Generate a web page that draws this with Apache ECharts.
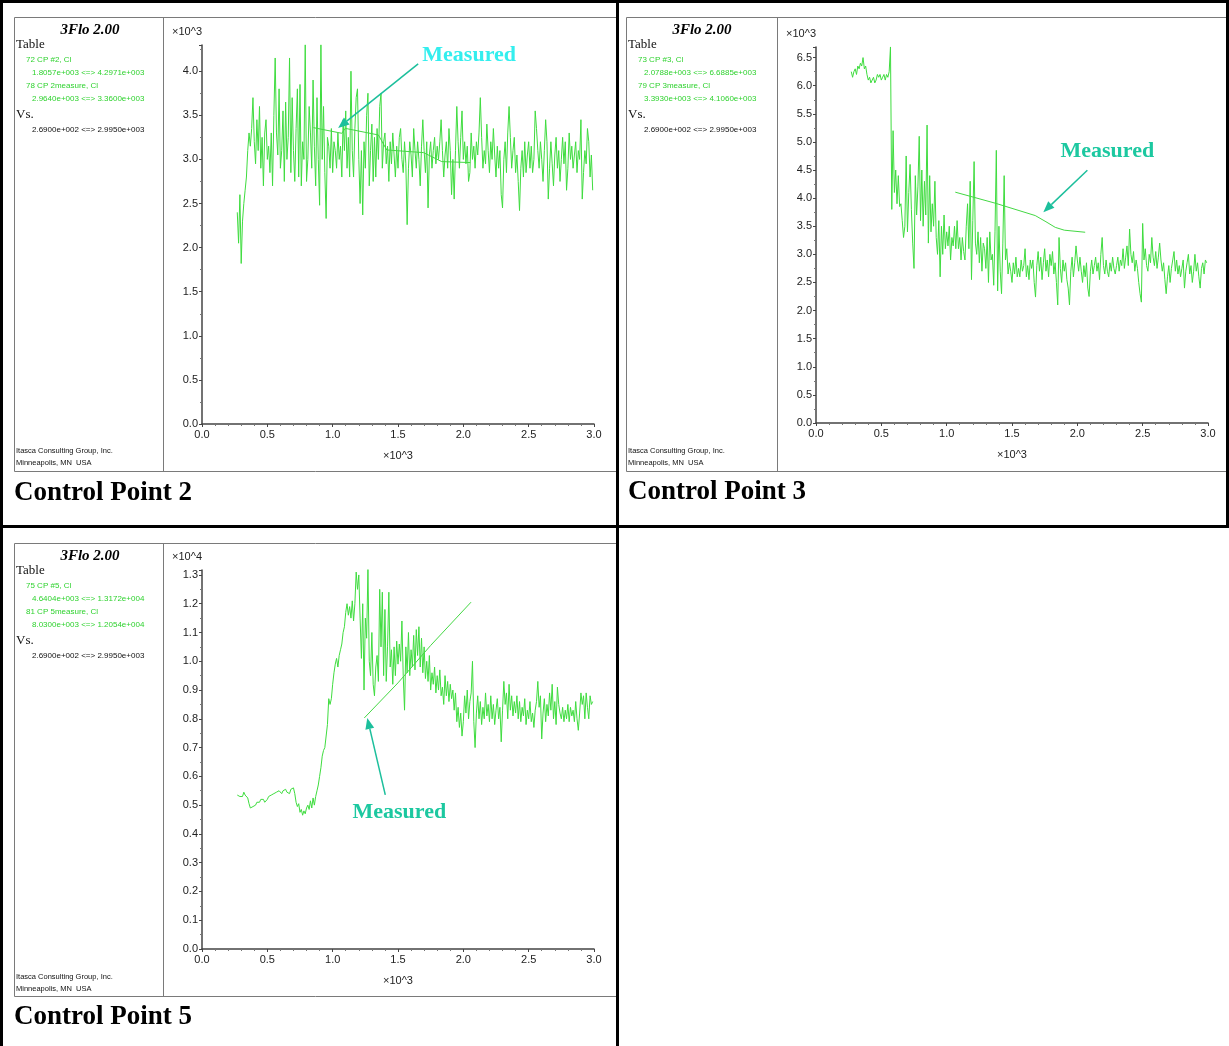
<!DOCTYPE html>
<html><head><meta charset="utf-8">
<script src="https://cdn.jsdelivr.net/npm/echarts@6/dist/echarts.min.js"></script>
<style>html,body{margin:0;padding:0;background:#fff}#c{width:1229px;height:1046px}</style>
</head><body><div id="c"></div>
<script>
// ---------- DATA ----------
const timeSteps = [
270,280,290,
300,310,320,330,340,350,360,370,380,390,
400,410,420,430,440,450,460,470,480,490,
500,510,520,530,540,550,560,570,580,590,
600,610,620,630,640,650,660,670,680,690,
700,710,720,730,740,750,760,770,780,790,
800,810,820,830,840,850,860,870,880,890,
900,910,920,930,940,950,960,970,980,990,
1000,1010,1020,1030,1040,1050,1060,1070,1080,1090,
1100,1110,1120,1130,1140,1150,1160,1170,1180,1190,
1200,1210,1220,1230,1240,1250,1260,1270,1280,1290,
1300,1310,1320,1330,1340,1350,1360,1370,1380,1390,
1400,1410,1420,1430,1440,1450,1460,1470,1480,1490,
1500,1510,1520,1530,1540,1550,1560,1570,1580,1590,
1600,1610,1620,1630,1640,1650,1660,1670,1680,1690,
1700,1710,1720,1730,1740,1750,1760,1770,1780,1790,
1800,1810,1820,1830,1840,1850,1860,1870,1880,1890,
1900,1910,1920,1930,1940,1950,1960,1970,1980,1990,
2000,2010,2020,2030,2040,2050,2060,2070,2080,2090,
2100,2110,2120,2130,2140,2150,2160,2170,2180,2190,
2200,2210,2220,2230,2240,2250,2260,2270,2280,2290,
2300,2310,2320,2330,2340,2350,2360,2370,2380,2390,
2400,2410,2420,2430,2440,2450,2460,2470,2480,2490,
2500,2510,2520,2530,2540,2550,2560,2570,2580,2590,
2600,2610,2620,2630,2640,2650,2660,2670,2680,2690,
2700,2710,2720,2730,2740,2750,2760,2770,2780,2790,
2800,2810,2820,2830,2840,2850,2860,2870,2880,2890,
2900,2910,2920,2930,2940,2950,2960,2970,2980,2990
];

const cp2Values = [
2400,2050,2600,
1820,2300,2500,2650,2800,3100,3300,3150,3350,3700,
3200,2950,3450,3100,3600,2900,3250,2700,3300,3450,
3000,3150,2850,3300,2700,3500,4150,3300,3050,3800,
2900,3100,3550,2750,3650,3000,3250,4150,2850,3700,
3100,2750,3350,3800,2800,3850,2700,3200,3000,4300,
2750,3000,3600,3300,2900,3900,3150,2700,3700,3000,
2480,4300,3000,3600,2850,2330,3250,3150,2900,3350,
2850,3200,3100,2900,3300,3000,3150,2800,3450,3100,
3550,2900,3250,2800,4000,3100,2800,3350,3700,3800,
3000,2500,3100,2370,3200,2900,3500,3750,2700,3100,
3400,2750,3250,2800,3350,3000,3600,3750,2900,3200,
3300,2950,3150,2750,3200,2950,3300,3050,2800,3150,
2900,3250,3350,3000,2850,3200,2950,2260,2900,3200,
3050,2800,3350,3100,2900,3200,3000,2700,3150,3450,
3100,2850,3200,2450,3050,3200,2900,3100,3250,2950,
3150,3000,3200,3450,3100,2800,3050,3200,2900,3350,
3100,2600,3000,2550,3100,3600,3200,2900,3250,3550,
3000,3200,2950,3150,2750,2850,3300,3000,3150,2900,
3200,3050,3300,3700,3250,2900,3100,2950,3400,3100,
2850,3200,3000,3350,3050,2800,3150,2900,3100,2600,
2450,3000,3200,2850,3300,3600,3250,2900,3100,3250,
2850,3050,2750,2420,2900,3100,2800,3200,2850,3050,
3200,2900,3150,2850,3000,3550,3350,3100,2900,3200,
3000,2750,3100,3450,3200,2550,2900,3200,2950,2700,
3050,3250,2900,3100,2750,3000,3250,2950,3200,2650,
2900,3300,3000,3150,2900,3050,3200,2850,3100,3000,
3450,2550,2850,3100,2950,3350,3200,2800,3050,2650
];

const cp3Values = [
6250,6150,6250,
6300,6200,6350,6300,6400,6350,6500,6300,6350,6200,
6100,6150,6050,6100,6150,6050,6100,6200,6150,6200,
6100,6150,6200,6100,6200,6150,6250,6690,3800,5200,
4100,4500,3900,4400,3850,3900,3600,3300,3500,4750,
3400,4100,4600,3800,3200,2750,4400,3700,4200,5100,
3600,4500,3500,4300,3700,5300,3200,4400,3400,3900,
3500,4300,3300,3000,3600,2600,3500,3000,3700,3100,
3400,3150,3500,2900,3300,3150,3500,3100,3600,3100,
3300,2900,3300,3050,2900,3500,3900,3100,4300,2550,
3600,4650,3200,3000,3400,2850,3300,2700,3200,3100,
2750,3300,2500,3400,2900,3000,2450,3400,4850,2350,
3500,2700,2300,3200,4400,2900,3100,2650,2850,2700,
2500,2850,2650,2950,2600,2750,2600,2900,2700,2800,
3100,2600,2800,2550,2900,2750,2900,2500,2240,2800,
3050,2700,2950,2550,2850,3100,2700,2900,2600,3000,
2800,3050,2650,2850,2500,2100,3300,2750,2500,2900,
2700,2850,2550,2400,2100,2700,2950,2600,2850,3150,
2900,2700,2950,2700,2500,2800,2600,2850,2400,2250,
2700,2900,2650,2800,2950,2700,2850,2550,3000,3300,
2800,2650,2900,2700,2600,2850,2700,2950,2750,2650,
2800,2950,2700,2900,2800,3100,2750,2950,3150,2800,
3450,3000,2850,3050,2700,2900,2750,2500,2300,2150,
3550,2900,3100,2800,2700,3000,2850,3300,2950,2800,
3050,2750,2950,3200,2900,2700,2850,2550,2300,2600,
2800,2500,2750,2900,3050,2700,2900,2650,2800,2600,
2750,2900,2400,2700,2850,3000,2650,2800,2500,2700,
3000,2700,2850,2600,2400,2750,2850,2650,2900,2850
];

const cp5Values = [
5350,5400,5300,
5350,5300,5450,5350,5300,5250,5050,4900,4850,4950,
4900,5000,5100,5150,5100,5200,5150,5200,5100,5150,
5200,5300,5250,5350,5300,5400,5350,5450,5400,5500,
5450,5400,5500,5450,5550,5450,5500,5400,5550,5500,
5600,5400,5100,4950,5050,4750,4850,4650,4800,4700,
4900,5000,4850,5150,4900,5250,5000,5300,5500,5700,
6000,6300,6700,6900,7000,6950,7800,8700,8500,8700,
9200,9600,9900,10100,9800,10200,10400,10600,11000,11200,
11700,12000,11600,11900,11500,12100,11400,12000,13100,12500,
13000,11500,10100,12000,9000,11500,10800,13200,10000,9500,
11000,9200,8800,9800,10200,9300,12500,10500,12400,9500,
11800,9300,10500,12400,9800,10400,9200,10500,9500,10700,
9900,10600,10000,11400,9500,8300,10500,9600,11000,9500,
10400,9800,10900,9700,11100,10200,11200,9800,10800,9600,
10500,9400,10000,9300,10200,9000,9600,9200,9800,8900,
9500,9000,9700,8800,9100,8500,9500,8800,9300,8600,
9200,8700,9000,8300,8900,7900,8400,7700,8200,7400,
7900,8800,8200,9000,8000,8600,8900,10000,7900,7000,
8200,8800,8000,8600,7800,8400,8000,8900,8100,8500,
7900,8800,8000,8500,7800,8300,8700,8000,8400,7200,
8300,9300,8500,8900,8000,9200,8300,8800,8100,8600,
8200,8800,8000,8600,7900,8400,8100,8700,7800,8300,
8000,8600,7900,8200,7700,8300,8600,9300,8400,8800,
7300,8200,8700,7900,8500,8100,8900,8300,9200,8000,
8600,7800,9100,8500,8200,8000,8400,7900,8300,8000,
8500,7900,8400,8100,8300,7900,8600,8000,7600,8200,
8900,8500,8800,8000,8900,8400,8000,8800,8500,8600
];

const cp2MeasuredX = [853, 1070, 1096, 1350, 1414, 1695, 1835, 2053];
const cp2MeasuredY = [3360, 3296, 3352, 3277, 3107, 3077, 2975, 2964];
const cp3MeasuredX = [1066, 1372, 1678, 1760, 1831, 1900, 2060];
const cp3MeasuredY = [4106, 3910, 3690, 3580, 3480, 3430, 3393];
const cp5MeasuredX = [1242, 1500, 1750, 2059];
const cp5MeasuredY = [8030, 9250, 10550, 12054];

const yMaxValues = [4297.1, 6688.5, 13172];
const yScaleDivisors = [1000, 1000, 10000];
const yUnitLabels = ['×10^3', '×10^3', '×10^4'];
const xUnitLabel = '×10^3';

const panelTitles = ['Control Point 2', 'Control Point 3', 'Control Point 5'];
const panelLegendRows = [
  ['72 CP #2, Cl', '1.8057e+003 <=> 4.2971e+003', '78 CP 2measure, Cl', '2.9640e+003 <=> 3.3600e+003'],
  ['73 CP #3, Cl', '2.0788e+003 <=> 6.6885e+003', '79 CP 3measure, Cl', '3.3930e+003 <=> 4.1060e+003'],
  ['75 CP #5, Cl', '4.6404e+003 <=> 1.3172e+004', '81 CP 5measure, Cl', '8.0300e+003 <=> 1.2054e+004']
];
const vsRange = '2.6900e+002 <=> 2.9950e+003';
const annotationText = 'Measured';
// arrow tips in data coordinates (x, y) for each panel
const arrowTipX = [1042, 1740, 1265];
const arrowTipY = [3357, 3750, 8030];

// ---------- LAYOUT ----------
function pairs(xs, ys) {
  const n = Math.min(xs.length, ys.length), out = [];
  for (let i = 0; i < n; i++) out.push([xs[i], ys[i]]);
  return out;
}
const FONT = 'Arial, "Liberation Sans", sans-serif';
const SERIF = '"Times New Roman", "Liberation Serif", serif';
const LINE_COLOR = '#3fdc3f';
const grids = [
  { left: 202, top: 45, width: 392, height: 379 },
  { left: 816, top: 47, width: 392, height: 376 },
  { left: 202, top: 570, width: 392, height: 379 }
];
const frames = [[14, 17, 602, 454], [626, 17, 603, 454], [14, 543, 602, 453]];
const dividers = [163.5, 777.5, 163.5];
const titlePos = [[14, 493], [628, 492], [14, 1017]];

const xAxes = grids.map((g, i) => ({
  type: 'value', gridIndex: i, min: 0, max: 3000, interval: 500,
  name: xUnitLabel, nameLocation: 'middle', nameGap: 26,
  nameTextStyle: { fontSize: 11, color: '#222', fontFamily: FONT },
  axisLine: { lineStyle: { color: '#444', width: 1.5 } },
  axisTick: { length: 3, lineStyle: { color: '#444' } },
  minorTick: { show: true, splitNumber: 5, length: 2, lineStyle: { color: '#777' } },
  axisLabel: { fontSize: 11, color: '#222', margin: 5, fontFamily: FONT,
    formatter: v => (v / 1000).toFixed(1) },
  splitLine: { show: false }
}));
const yAxes = grids.map((g, i) => ({
  type: 'value', gridIndex: i, min: 0, max: yMaxValues[i], interval: yScaleDivisors[i] / (i === 2 ? 10 : 2),
  name: yUnitLabels[i], nameLocation: 'end', nameGap: 8,
  nameTextStyle: { fontSize: 11, color: '#222', fontFamily: FONT, align: 'right', verticalAlign: 'bottom' },
  axisLine: { show: true, lineStyle: { color: '#444', width: 1.5 } },
  axisTick: { show: true, length: 3, lineStyle: { color: '#444' } },
  minorTick: { show: true, splitNumber: 2, length: 2, lineStyle: { color: '#777' } },
  axisLabel: { fontSize: 11, color: '#222', margin: 4, fontFamily: FONT, showMaxLabel: false,
    formatter: v => (v / yScaleDivisors[i]).toFixed(1) },
  splitLine: { show: false }
}));

const simValues = [cp2Values, cp3Values, cp5Values];
const measX = [cp2MeasuredX, cp3MeasuredX, cp5MeasuredX];
const measY = [cp2MeasuredY, cp3MeasuredY, cp5MeasuredY];
const series = [];
for (let i = 0; i < 3; i++) {
  series.push({ type: 'line', xAxisIndex: i, yAxisIndex: i, data: pairs(timeSteps, simValues[i]),
    showSymbol: false, symbol: 'none', lineStyle: { color: LINE_COLOR, width: 1 }, animation: false, z: 2 });
  series.push({ type: 'line', xAxisIndex: i, yAxisIndex: i, data: pairs(measX[i], measY[i]),
    showSymbol: false, symbol: 'none', lineStyle: { color: '#44d844', width: 1 }, animation: false, z: 3 });
}

const chart = echarts.init(document.getElementById('c'), null, { renderer: 'canvas' });
chart.setOption({
  backgroundColor: '#fff', animation: false,
  grid: grids.map(g => Object.assign({ containLabel: false }, g)),
  xAxis: xAxes, yAxis: yAxes, series: series
});

// ---------- GRAPHICS (frames, legend panels, annotations) ----------
const G = [];
function txt(text, x, y, font, fill, align, vAlign) {
  G.push({ type: 'text', silent: true, z: 10, style: { text, x, y, font, fill: fill || '#000',
    align: align || 'left', verticalAlign: vAlign || 'middle' } });
}
function rect(x, y, w, h, fill) { G.push({ type: 'rect', silent: true, z: 20, shape: { x, y, width: w, height: h }, style: { fill } }); }
function line(x1, y1, x2, y2, stroke, lw, z) { G.push({ type: 'line', silent: true, z: z || 10, shape: { x1, y1, x2, y2 }, style: { stroke, lineWidth: lw } }); }

// outer table borders
rect(0, 0, 1229, 3, '#000');
rect(0, 0, 3, 1046, '#000');
rect(616, 0, 3, 1046, '#000');
rect(0, 525, 1229, 3, '#000');
rect(1226, 0, 3, 528, '#000');

for (let i = 0; i < 3; i++) {
  const [fx, fy, fw, fh] = frames[i];
  G.push({ type: 'rect', silent: true, z: 9, shape: { x: fx + 0.5, y: fy + 0.5, width: fw, height: fh },
    style: { fill: 'none', stroke: '#7a7a7a', lineWidth: 1 } });
  line(dividers[i], fy + 0.5, dividers[i], fy + fh + 0.5, '#7a7a7a', 1);
  const ox = fx, oy = fy;
  txt('3Flo 2.00', ox + 76, oy + 13, 'italic bold 15px ' + SERIF, '#000', 'center');
  txt('Table', ox + 2, oy + 28, '13px ' + SERIF, '#111');
  const rows = panelLegendRows[i];
  txt(rows[0], ox + 12, oy + 43, '8px ' + FONT, '#2fd22f');
  txt(rows[1], ox + 18, oy + 56, '8px ' + FONT, '#2fd22f');
  txt(rows[2], ox + 12, oy + 69, '8px ' + FONT, '#2fd22f');
  txt(rows[3], ox + 18, oy + 82, '8px ' + FONT, '#2fd22f');
  txt('Vs.', ox + 2, oy + 98, '13px ' + SERIF, '#111');
  txt(vsRange, ox + 18, oy + 113, '8px ' + FONT, '#111');
  txt('Itasca Consulting Group, Inc.', ox + 2, oy + 434, '7.5px ' + FONT, '#111');
  txt('Minneapolis, MN  USA', ox + 2, oy + 446, '7.5px ' + FONT, '#111');
  txt(panelTitles[i], titlePos[i][0], titlePos[i][1], 'bold 27px ' + SERIF, '#000');
}

// annotations anchored to data coordinates
const tailOffsets = [[80, -64], [44, -42], [18, 77]];
const textOffsets = [[51, -9], [20, -19], [14, 17]];
const textColors = ['#33eeee', '#1cc8a0', '#1cc8a0'];
const ARROW = '#1cbf9c';
for (let i = 0; i < 3; i++) {
  const tip = chart.convertToPixel({ gridIndex: i }, [arrowTipX[i], arrowTipY[i]]);
  const tail = [tip[0] + tailOffsets[i][0], tip[1] + tailOffsets[i][1]];
  const dx = tip[0] - tail[0], dy = tip[1] - tail[1], len = Math.hypot(dx, dy);
  const ux = dx / len, uy = dy / len, L = 11, W = 4.5;
  const base = [tip[0] - ux * L, tip[1] - uy * L];
  line(tail[0], tail[1], base[0], base[1], ARROW, 1.5, 15);
  G.push({ type: 'polygon', silent: true, z: 15, shape: { points: [tip,
    [base[0] - uy * W, base[1] + ux * W], [base[0] + uy * W, base[1] - ux * W]] }, style: { fill: ARROW } });
  txt(annotationText, tail[0] + textOffsets[i][0], tail[1] + textOffsets[i][1], 'bold 22px ' + SERIF, textColors[i], 'center');
}
chart.setOption({ graphic: { elements: G } });
</script>
</body></html>
